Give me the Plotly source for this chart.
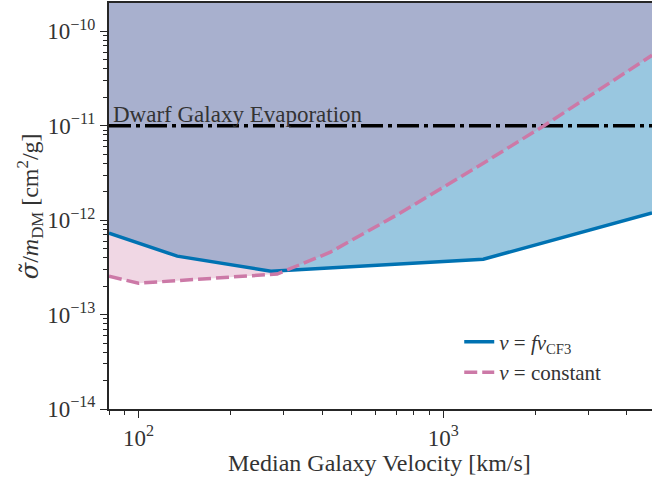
import plotly.graph_objects as go
import numpy as np

# ---- data ----
v_cf3 = [80, 134, 272, 1353, 4840]
sigma_cf3 = [7.3e-13, 4.16e-13, 2.88e-13, 3.86e-13, 1.19e-12]

v_const = [80, 100, 285, 426, 722, 1353, 2128, 4840]
sigma_const = [2.55e-13, 2.15e-13, 2.69e-13, 4.58e-13, 1.19e-12, 4.01e-12, 9.9e-12, 5.57e-11]

dwarf_limit = 1e-11
sigma_top = 1e-9

x_range = [80, 4840]
y_range = [1e-14, 10 ** -9.70]

x_major = [100, 1000]
x_major_text = ["10<sup>2</sup>", "10<sup>3</sup>"]
x_minor = [80, 90, 200, 300, 400, 500, 600, 700, 800, 900, 2000, 3000, 4000]

y_major = [1e-14, 1e-13, 1e-12, 1e-11, 1e-10]
y_major_text = ["10<sup>−14</sup>", "10<sup>−13</sup>", "10<sup>−12</sup>",
                "10<sup>−11</sup>", "10<sup>−10</sup>"]
y_minor = [m * 10.0 ** e for e in range(-14, -9) for m in range(2, 10)]

BLUE = "#0072B2"
PINK = "#CC79A7"
FONT = "Liberation Serif"
AXC = "#262626"
TXT = "#333333"

fig = go.Figure()

# excluded-region fills
fig.add_trace(go.Scatter(x=v_cf3, y=[sigma_top] * len(v_cf3), mode="lines",
                         line=dict(width=0), showlegend=False, hoverinfo="skip"))
fig.add_trace(go.Scatter(x=v_cf3, y=sigma_cf3, mode="lines", line=dict(width=0),
                         fill="tonexty", fillcolor="rgba(0,114,178,0.4)",
                         showlegend=False, hoverinfo="skip"))
fig.add_trace(go.Scatter(x=v_const, y=[sigma_top] * len(v_const), mode="lines",
                         line=dict(width=0), showlegend=False, hoverinfo="skip"))
fig.add_trace(go.Scatter(x=v_const, y=sigma_const, mode="lines", line=dict(width=0),
                         fill="tonexty", fillcolor="rgba(204,121,167,0.3)",
                         showlegend=False, hoverinfo="skip"))

# dwarf galaxy limit
fig.add_trace(go.Scatter(x=x_range, y=[dwarf_limit, dwarf_limit], mode="lines",
                         line=dict(color="black", width=3.5, dash="22px,5px,4px,5px"),
                         showlegend=False, hoverinfo="skip"))

# curves
fig.add_trace(go.Scatter(x=v_cf3, y=sigma_cf3, mode="lines",
                         line=dict(color=BLUE, width=3.5),
                         name="<i>v</i> = <i>fv</i><sub>CF3</sub>"))
fig.add_trace(go.Scatter(x=v_const, y=sigma_const, mode="lines",
                         line=dict(color=PINK, width=3.5, dash="13px,5px"),
                         name="<i>v</i> = constant"))

fig.add_annotation(text="Dwarf Galaxy Evaporation", xref="paper", yref="y",
                   x=0.004, y=np.log10(dwarf_limit), xanchor="left", yanchor="bottom",
                   showarrow=False, yshift=-3,
                   font=dict(family=FONT, size=23, color=TXT))

# axis titles
fig.add_annotation(text="Median Galaxy Velocity [km/s]", xref="paper", yref="paper",
                   x=0.499, y=-0.132, xanchor="center", yanchor="middle", showarrow=False,
                   font=dict(family=FONT, size=24, color=TXT))
fig.add_annotation(text="<span style=\"font-family:'DejaVu Serif'\"><i>σ̃</i></span>"
                        "/<i>m</i><sub>DM</sub> [cm<sup>2</sup>/g]",
                   xref="paper", yref="paper", textangle=-90,
                   x=-0.145, y=0.5, xanchor="center", yanchor="middle", showarrow=False,
                   font=dict(family=FONT, size=24, color=TXT))

fig.update_layout(
    width=652, height=478,
    margin=dict(l=109, r=0, t=3, b=69),
    paper_bgcolor="white", plot_bgcolor="white",
    font=dict(family=FONT, size=23, color=TXT),
    legend=dict(x=0.645, y=0.215, xanchor="left", yanchor="top", traceorder="normal",
                bgcolor="rgba(0,0,0,0)", font=dict(family=FONT, size=21, color=TXT)),
    xaxis=dict(type="log", range=[np.log10(x_range[0]), np.log10(x_range[1])],
               automargin=False,
               tickvals=x_major, ticktext=x_major_text,
               ticks="outside", ticklen=7, tickwidth=1.3, tickcolor=AXC,
               minor=dict(tickvals=x_minor, ticks="outside", ticklen=4, tickwidth=1, tickcolor=AXC),
               showline=True, linecolor=AXC, linewidth=2, mirror=True,
               showgrid=False, zeroline=False),
    yaxis=dict(type="log", range=[np.log10(y_range[0]), np.log10(y_range[1])],
               automargin=False,
               tickvals=y_major, ticktext=y_major_text,
               ticks="outside", ticklen=7, tickwidth=1.3, tickcolor=AXC,
               minor=dict(tickvals=y_minor, ticks="outside", ticklen=4, tickwidth=1, tickcolor=AXC),
               showline=True, linecolor=AXC, linewidth=2, mirror=False,
               showgrid=False, zeroline=False),
)

fig.write_html("out.html", config={"displayModeBar": False},
               post_script="document.body.style.margin='0px';document.body.style.padding='0px';")
